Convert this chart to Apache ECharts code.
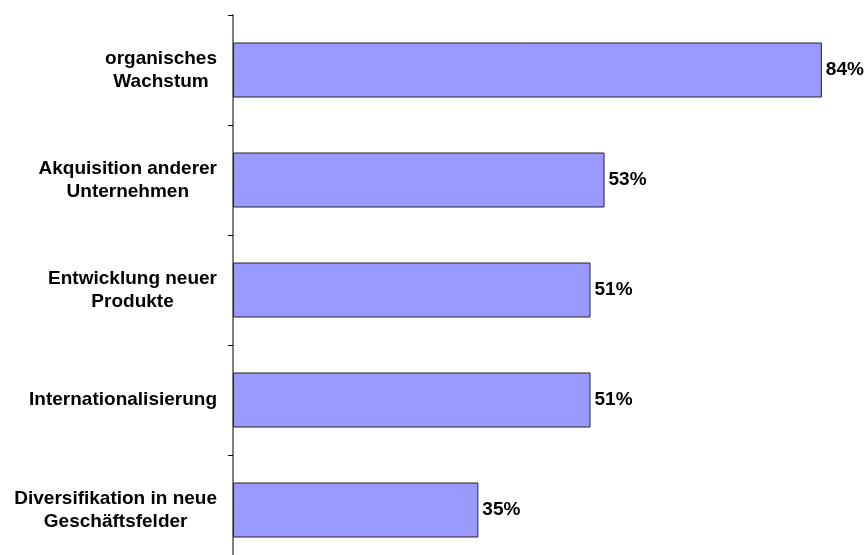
<!DOCTYPE html>
<html>
<head>
<meta charset="utf-8">
<script src="https://cdn.jsdelivr.net/npm/echarts@6/dist/echarts.min.js"></script>
<style>
  html, body { margin: 0; padding: 0; background: #fff; }
  #chart { width: 867px; height: 555px; }
</style>
</head>
<body>
<div id="chart"></div>
<script>
// Kategorien (von oben nach unten)
const categories = [
  'organisches\nWachstum',
  'Akquisition anderer\nUnternehmen',
  'Entwicklung neuer\nProdukte',
  'Internationalisierung',
  'Diversifikation in neue\nGeschäftsfelder'
]
const values = [84, 53, 51, 51, 35]

const chart = echarts.init(document.getElementById('chart'))

const options = {
  animation: false,
  backgroundColor: '#ffffff',
  grid: {
    left: 233,
    top: 15,
    width: 701,
    height: 550,
    outerBoundsMode: 'none'
  },
  xAxis: {
    type: 'value',
    min: 0,
    max: 100,
    show: false
  },
  yAxis: {
    type: 'category',
    inverse: true,
    data: categories,
    axisLine: {
      show: true,
      lineStyle: { color: '#808080', width: 2 }
    },
    axisTick: {
      show: true,
      length: 5,
      lineStyle: { color: '#000', width: 1 }
    },
    axisLabel: {
      margin: 16,
      formatter: function (v) {
        return v.split('\n').map(function (s) { return '{a|' + s + '}' }).join('\n')
      },
      rich: {
        a: {
          align: 'center',
          fontFamily: 'Liberation Sans, Arial, sans-serif',
          fontWeight: 'bold',
          fontSize: 19,
          lineHeight: 23,
          color: '#000'
        }
      }
    }
  },
  series: [
    {
      type: 'bar',
      data: values,
      barWidth: 55,
      itemStyle: {
        color: '#9999ff',
        borderColor: '#222',
        borderWidth: 1
      },
      label: {
        show: true,
        position: 'right',
        distance: 4,
        formatter: '{c}%',
        fontFamily: 'Liberation Sans, Arial, sans-serif',
        fontWeight: 'bold',
        fontSize: 19,
        color: '#000'
      }
    }
  ]
}

chart.setOption(options)
</script>
</body>
</html>
